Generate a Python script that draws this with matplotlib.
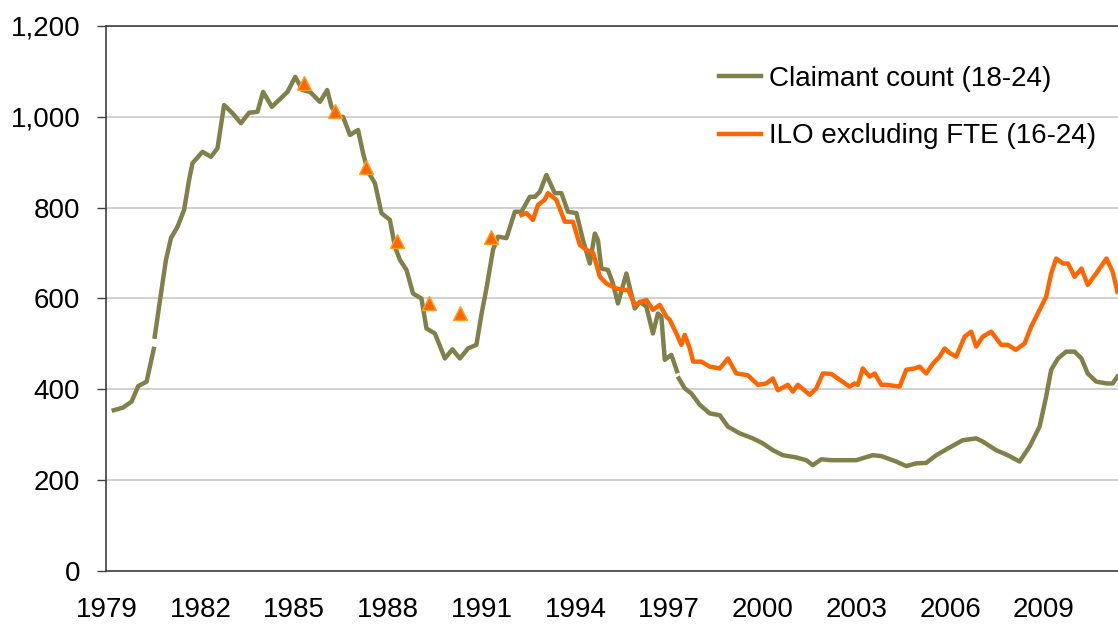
import matplotlib
matplotlib.use("Agg")
import matplotlib.pyplot as plt
import numpy as np
from matplotlib.ticker import FuncFormatter

# Youth unemployment measures (thousands)
claimant_year = [1979.22, 1979.52, 1979.79, 1980.0, 1980.27, 1980.5, 1980.51, 1980.53, 1980.73, 1980.89,
                 1981.05, 1981.26, 1981.47, 1981.63, 1981.74, 1982.06, 1982.33, 1982.54, 1982.75,
                 1983.02, 1983.29, 1983.55, 1983.82, 1984.0, 1984.28, 1984.78, 1985.03, 1985.26,
                 1985.5, 1985.82, 1986.05, 1986.19, 1986.4, 1986.56, 1986.78, 1987.04, 1987.2,
                 1987.36, 1987.58, 1987.79, 1988.06, 1988.22, 1988.38, 1988.59, 1988.8, 1989.07,
                 1989.23, 1989.5, 1989.82, 1990.06, 1990.3, 1990.56, 1990.83, 1990.99, 1991.15,
                 1991.36, 1991.52, 1991.79, 1992.06, 1992.27, 1992.54, 1992.7, 1992.86, 1993.07,
                 1993.34, 1993.55, 1993.76, 1994.03, 1994.24, 1994.46, 1994.62, 1994.72, 1994.83,
                 1995.04, 1995.2, 1995.36, 1995.63, 1995.9, 1996.06, 1996.27, 1996.48, 1996.64,
                 1996.75, 1996.86, 1997.07, 1997.25, 1997.29, 1997.31, 1997.5, 1997.71, 1997.98,
                 1998.3, 1998.62, 1998.88, 1999.26, 1999.68, 2000.0, 2000.32, 2000.64, 2001.07,
                 2001.39, 2001.6, 2001.87, 2002.19, 2002.46, 2002.99, 2003.52, 2003.79, 2004.27,
                 2004.59, 2004.91, 2005.23, 2005.55, 2005.98, 2006.4, 2006.83, 2007.04, 2007.47,
                 2007.84, 2008.22, 2008.54, 2008.86, 2009.07, 2009.23, 2009.45, 2009.71, 2009.98,
                 2010.2, 2010.4, 2010.67, 2011.0, 2011.2, 2011.35]
claimant = [354, 360, 373, 407, 417, 489, None, 516, 611, 685,
            733, 758, 795, 861, 898, 923, 912, 931, 1026,
            1008, 986, 1009, 1011, 1055, 1022, 1055, 1088, 1059,
            1055, 1033, 1059, 1022, 1000, 1000, 960, 971, 920,
            879, 854, 788, 773, 714, 685, 663, 611, 600,
            534, 523, 468, 488, 468, 490, 498, 565, 622,
            707, 736, 733, 791, 791, 824, 824, 835, 872,
            832, 832, 791, 788, 729, 677, 743, 729, 666,
            663, 633, 589, 655, 578, 593, 582, 523, 567,
            560, 465, 476, 440, None, 424, 402, 391, 366,
            347, 343, 318, 303, 292, 281, 266, 255, 250,
            244, 233, 246, 244, 244, 244, 255, 253, 241,
            231, 237, 238, 255, 272, 288, 292, 285, 266,
            255, 241, 274, 318, 384, 443, 468, 483, 483,
            468, 435, 417, 413, 413, 428]

ilo_year = [1992.27, 1992.43, 1992.64, 1992.8, 1993.01, 1993.12, 1993.39, 1993.66, 1993.92,
            1994.14, 1994.35, 1994.57, 1994.78, 1994.99, 1995.31, 1995.53, 1995.69, 1995.9,
            1996.11, 1996.27, 1996.48, 1996.7, 1996.91, 1997.02, 1997.23, 1997.39, 1997.5,
            1997.66, 1997.77, 1998.03, 1998.3, 1998.62, 1998.88, 1999.15, 1999.52, 1999.84,
            2000.11, 2000.32, 2000.48, 2000.8, 2000.96, 2001.12, 2001.5, 2001.71, 2001.92,
            2002.19, 2002.46, 2002.78, 2002.94, 2003.04, 2003.2, 2003.42, 2003.58, 2003.79,
            2003.95, 2004.38, 2004.59, 2004.86, 2005.02, 2005.23, 2005.45, 2005.66, 2005.82,
            2005.98, 2006.19, 2006.46, 2006.67, 2006.83, 2007.04, 2007.31, 2007.63, 2007.84,
            2008.1, 2008.38, 2008.59, 2008.86, 2009.07, 2009.23, 2009.39, 2009.61, 2009.77,
            2009.98, 2010.2, 2010.4, 2010.67, 2011.0, 2011.2, 2011.35]
ilo = [784, 788, 773, 806, 817, 832, 817, 769, 769,
       718, 707, 700, 648, 633, 622, 619, 619, 586,
       593, 597, 575, 586, 560, 553, 523, 498, 520,
       490, 461, 461, 450, 446, 468, 435, 431, 410,
       413, 424, 398, 410, 395, 410, 388, 402, 435,
       434, 421, 406, 413, 410, 446, 428, 435, 410,
       410, 406, 443, 446, 450, 435, 457, 472, 490,
       480, 472, 516, 527, 494, 516, 527, 498, 498,
       487, 501, 538, 575, 604, 655, 688, 677, 677,
       648, 666, 630, 655, 688, 659, 615]

# earlier annual ILO points shown as triangles
ilo_annual_year = [1985.3, 1986.3, 1987.3, 1988.3, 1989.3, 1990.3, 1991.3]
ilo_annual = [1075, 1012, 890, 727, 589, 567, 736]

olive = '#80804a'
orange = '#ff6600'

plt.rcParams['font.family'] = ['Liberation Sans', 'DejaVu Sans']

fig = plt.figure(figsize=(11.18, 6.26), dpi=100)
ax = fig.add_axes([106 / 1118, 55 / 626, 1 - 106 / 1118, 545 / 626])

cc = np.array([np.nan if v is None else v for v in claimant], dtype=float)
ax.plot(claimant_year, cc, color=olive, lw=3.2, label='Claimant count (18-24)', zorder=3)
ax.plot(ilo_year, ilo, color=orange, lw=3.2, label='ILO excluding FTE (16-24)', zorder=3)
ax.plot(ilo_annual_year, ilo_annual, ls='none', marker='^', ms=10, mfc=orange,
        mec='#ffa020', mew=1, zorder=4)

ax.set_xlim(1978.97, 2011.37)
ax.set_ylim(0, 1200)
ax.set_xticks(np.arange(1979, 2010, 3))
ax.set_yticks(np.arange(0, 1201, 200))
ax.yaxis.set_major_formatter(FuncFormatter(lambda v, p: f'{int(v):,}'))
ax.tick_params(axis='y', length=6.5, width=1, color='#404040', pad=12, labelsize=20)
ax.tick_params(axis='x', length=0, pad=19, labelsize=20)

ax.grid(axis='y', color='#c8c8c8', lw=1.2, zorder=0)
ax.set_axisbelow(True)
for s in ['left', 'bottom', 'top']:
    ax.spines[s].set_color('#404040')
    ax.spines[s].set_linewidth(1.2)
ax.spines['right'].set_visible(False)

ax.legend(loc='center left', bbox_to_anchor=(719 / 1118, 1 - 107.5 / 626),
          bbox_transform=fig.transFigure, frameon=False, fontsize=20,
          handlelength=1.5, handletextpad=0.3, labelspacing=1.15,
          borderpad=0, borderaxespad=0)

fig.savefig('out.png', dpi=100)
